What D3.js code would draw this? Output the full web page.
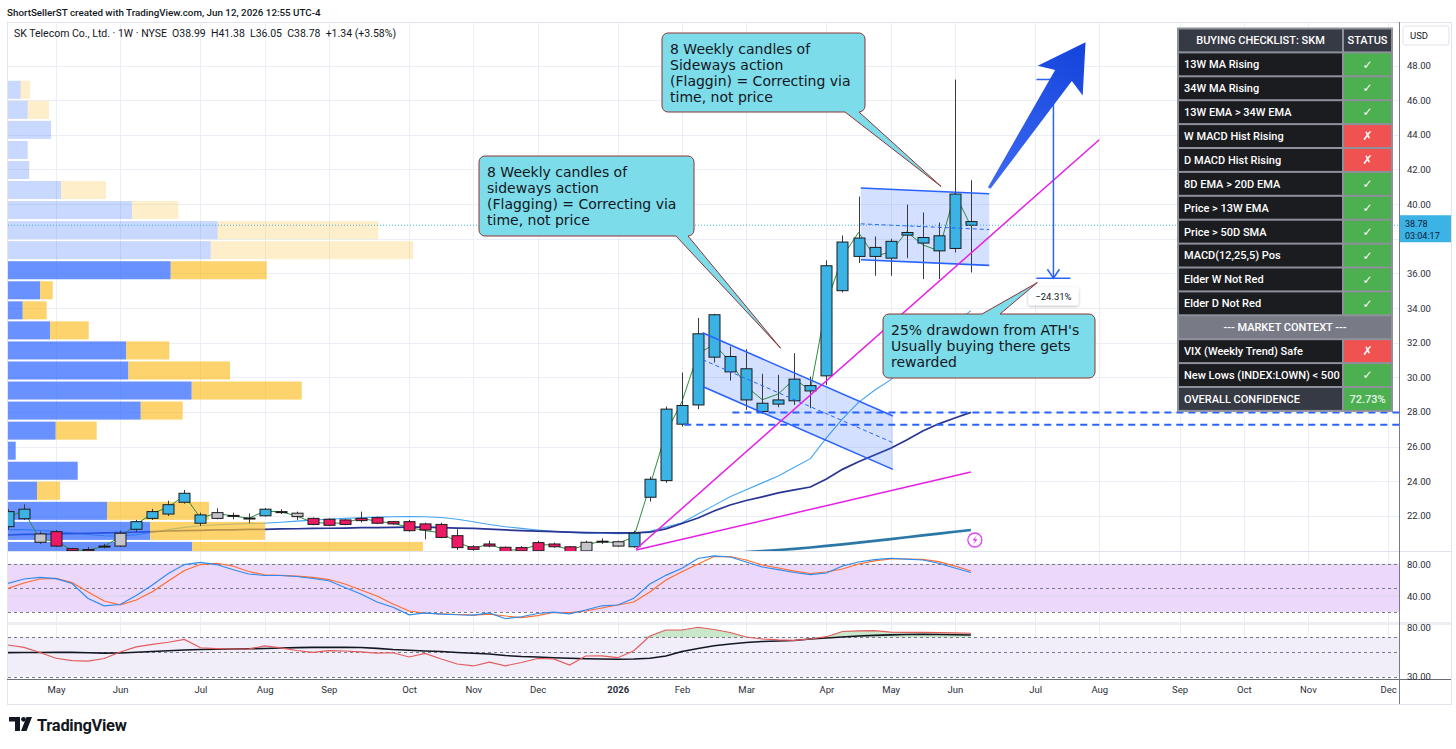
<!DOCTYPE html>
<html>
<head>
<meta charset="utf-8">
<title>SK Telecom 1W</title>
<script src="https://cdn.jsdelivr.net/npm/d3@7"></script>
<style>
  body { margin: 0; background: #fff; }
  svg { display: block; }
</style>
</head>
<body>
<script>
// ---------- data ----------
var firstBar = "2025-04-14", lastBar = "2026-06-08";

var opens  = [21.37,21.83,20.95,21.08,20.10,20.05,20.20,20.25,21.22,21.85,22.10,22.78,21.57,21.85,22.02,21.87,22.00,22.22,22.15,21.85,
              21.80,21.76,21.85,21.89,21.66,21.66,21.53,21.50,20.85,20.21,20.25,20.18,20.16,19.98,20.21,20.21,19.97,20.50,20.25,20.21,
              23.07,24.03,27.29,28.40,33.61,30.31,30.49,28.50,28.45,28.64,29.21,30.08,35.00,36.98,37.50,36.88,38.21,38.07,38.17,40.58,38.99];
var highs  = [22.40,22.66,21.08,21.18,20.15,20.20,20.37,21.14,21.76,22.40,22.87,23.49,22.18,22.43,22.18,22.14,22.45,22.38,22.24,21.90,
              21.85,21.80,22.24,21.95,21.70,21.76,21.60,21.60,21.22,20.30,20.56,20.22,20.25,20.56,20.45,20.25,20.56,20.70,20.56,21.14,
              24.26,28.31,30.27,33.42,33.66,31.78,31.62,30.20,30.14,31.39,30.04,36.75,38.19,40.44,38.13,38.00,39.97,39.52,38.94,47.19,41.38];
var lows   = [21.20,21.76,20.37,20.20,19.90,19.85,20.12,20.20,21.08,21.76,21.99,22.70,21.41,21.80,21.80,21.57,21.95,22.10,21.76,21.45,
              21.40,21.45,21.62,21.52,21.48,21.08,20.64,20.70,20.02,19.98,20.18,19.88,19.90,19.95,20.15,19.88,19.92,20.37,20.20,20.15,
              22.82,23.90,27.15,28.16,30.85,29.81,28.12,27.88,28.27,28.40,28.21,29.56,34.90,36.60,35.86,35.86,36.88,35.67,35.67,37.21,36.05];
var closes = [22.24,22.38,20.47,20.25,19.98,19.98,20.25,20.99,21.66,22.24,22.64,23.30,22.05,22.18,22.00,21.85,22.38,22.24,21.95,21.50,
              21.45,21.50,21.72,21.57,21.53,21.14,21.18,20.75,20.16,20.06,20.37,19.93,19.97,20.45,20.37,19.93,20.47,20.53,20.50,20.99,
              24.11,28.16,28.37,32.51,31.16,31.20,28.69,28.02,28.69,29.89,29.52,36.44,37.81,38.04,36.98,37.85,38.36,37.75,37.30,37.44,38.78];
// impulse state per bar: b = bullish/blue, p = bearish/pink, g = neutral/grey
var impulse = ("bbgppppg" + "bbbbb" + "ggg" + "b" + "gg" + "ppppppppppppppppp" + "ggg" + "bbbbbbbbbbbbbbbbbbbbbb").split("");

var ema13 = [21.20,21.20,21.15,21.10,21.00,20.92,20.85,20.83,20.90,21.05,21.20,21.33,21.42,21.48,21.52,21.55,21.57,21.63,21.69,21.75,
             21.80,21.85,21.89,21.92,21.94,21.95,21.94,21.90,21.80,21.65,21.50,21.37,21.27,21.18,21.10,21.04,21.00,20.99,20.97,20.98,
             21.10,21.35,21.60,22.10,22.60,23.10,23.50,23.90,24.30,24.80,25.30,26.50,27.60,28.55,29.25,29.85,30.70,31.50,32.30,33.10,33.85];
var sma34 = [20.89,20.92,20.93,20.95,20.97,20.99,21.01,21.03,21.06,21.09,21.12,21.14,21.16,21.18,21.19,21.21,21.22,21.24,21.25,21.27,
             21.28,21.29,21.31,21.32,21.33,21.34,21.34,21.32,21.29,21.27,21.23,21.18,21.14,21.11,21.08,21.05,21.03,21.02,21.01,21.01,
             21.05,21.24,21.55,21.87,22.28,22.62,22.88,23.09,23.32,23.50,23.66,24.13,24.68,25.12,25.51,25.90,26.38,26.90,27.31,27.65,27.97];
// long average only shows from Jan 2026 onward
var ma40 = [null,null,null,null,null,null,null,null,null,null,null,null,null,null,null,null,null,null,null,null,
            null,null,null,null,null,null,null,null,null,null,null,null,null,null,null,null,null,null,19.45,19.50,
            19.55,19.60,19.66,19.72,19.78,19.84,19.90,19.96,20.02,20.09,20.17,20.26,20.35,20.45,20.55,20.65,20.76,20.87,20.97,21.08,21.18];

var stochK = [56,61.5,63.6,62,55.8,36.9,27.7,29.3,40.7,53.9,68.4,79.7,82.5,79.7,73.4,67.8,65.9,65.9,64.6,62.1,
              59.3,50.7,42.5,32.5,25.8,16.3,18.8,17.3,16.4,16,18.8,11.4,13.9,18,19.6,17.6,22.4,27.7,28.7,37.1,
              55.2,66.1,75,87.3,90.7,89.2,82.9,76.6,73.4,69.7,67.1,69,77.9,82.9,85.8,87.6,86.4,85.4,81.3,75.3,69.7];
var stochD = [49.7,56.4,61.5,62.3,57,45,33.7,29,35,45.4,58.9,72.2,79.7,81.3,77.9,70.9,66.8,66.1,65.2,63.4,
              60.8,55.2,47.6,40,30,21.1,18.3,17.6,16.7,16,17.1,14.8,12.7,15.4,19.2,19,21.1,24.9,28.7,32.5,
              45,60.2,70.7,80.4,89.8,89.8,85.4,79.1,75.3,71.5,68.4,70.3,74.1,80.4,84.2,86.7,86.7,86.3,83.3,77.9,71.5];
var rsi    = [62.2,59.8,54.6,48.7,46.4,45.9,48.5,55.1,60.2,62.9,65,67.8,59.4,58.6,58.1,58.1,61.2,59.3,56.6,54.8,
              56.4,56.1,55.3,53.9,54.3,50,53.6,48,42.9,40.9,44.7,41.1,44.4,48.5,48,41.9,51,51.2,49.3,56.4,
              71.3,77.4,77.4,80.2,77.9,74.9,70.3,68.3,67.3,66.8,68.3,70.6,75.9,76.6,76.7,75.2,75.1,75.1,74.8,74.4,74.1];
var rsiMa  = [54.4,54.5,54.6,54.7,54.7,54.3,53.9,54.1,54.8,55.6,56.4,57.1,57.6,57.9,58.1,58.4,58.7,59.1,59.5,59.8,
              59.8,59.8,59.6,58.8,57.6,56.8,56.1,55.6,54.6,53.8,53,51.5,50.5,50,49.3,48.7,48.3,47.9,47.7,48,
              48.7,51,55.6,58.6,61.4,63.2,64.7,65.7,66.2,66.8,68.3,69.3,70.3,71.3,72,72.5,72.8,73,72.9,72.6,72.3];

// visible range volume profile, rows from the bottom up
var vpLow = 19.39, vpRowSize = 1.158, vpValueAreaHigh = 36.76;
var vpUp   = [184,142,99,29,69.7,7.7,47.7,132.7,183.7,120.3,118,42,14.7,32,162.7,202.7,209.7,124,53,21,19.7,43,19.7,12.7];
var vpDown = [231,115,102,23,0,0,41,42,110,101.7,43.3,38.7,24,12.7,96,202.6,160.6,46.3,45,0.5,0,0,21.3,9.3];

var monthTicks  = ["2025-05-05","2025-06-02","2025-07-07","2025-08-04","2025-09-01","2025-10-06","2025-11-03","2025-12-01",
                   "2026-01-05","2026-02-02","2026-03-02","2026-04-06","2026-05-04","2026-06-01","2026-07-06","2026-08-03",
                   "2026-09-07","2026-10-05","2026-11-02","2026-12-07"];
var monthLabels = ["May","Jun","Jul","Aug","Sep","Oct","Nov","Dec","2026","Feb","Mar","Apr","May","Jun","Jul","Aug","Sep","Oct","Nov","Dec"];
var priceTicks = [22,24,26,28,30,32,34,36,38,40,42,44,46,48];
var stochTicks = [80,40], stochLevels = [80,50,20];
var rsiTicks = [80,30], rsiLevels = [70,55,30];

// drawings
var trendLines = [
  {from: ["2026-01-13", 20.08], to: ["2026-08-03", 43.72]},
  {from: ["2026-01-13", 20.02], to: ["2026-06-08", 24.53]}
];
var channels = [
  {from: "2026-02-11", to: "2026-05-05", upper: [32.57, 27.76], lower: [29.46, 24.68]},
  {from: "2026-04-21", to: "2026-06-16", upper: [40.93, 40.60], lower: [36.79, 36.46]}
];
var hLines = [{from: "2026-02-24", price: 27.96}, {from: "2026-02-03", price: 27.25}];
var measure = {date: "2026-07-14", from: 47.19, to: 35.72};
var bigArrow = {tail: ["2026-06-16", 40.93], tip: ["2026-07-28", 49.35]};
var callouts = [
  {tip: ["2026-03-17", 31.68], lines: ["8 Weekly candles of", "sideways action", "(Flagging) = Correcting via", "time, not price"]},
  {tip: ["2026-05-26", 41.02], lines: ["8 Weekly candles of", "Sideways action", "(Flaggin) = Correcting via", "time, not price"]},
  {tip: ["2026-07-07", 35.47], lines: ["25% drawdown from ATH's", "Usually buying there gets", "rewarded"]}
];

var checkLabels = ["13W MA Rising","34W MA Rising","13W EMA > 34W EMA","W MACD Hist Rising","D MACD Hist Rising",
                   "8D EMA > 20D EMA","Price > 13W EMA","Price > 50D SMA","MACD(12,25,5) Pos","Elder W Not Red","Elder D Not Red"];
var checkPass = [true,true,true,false,false,true,true,true,true,true,true];
var contextLabels = ["VIX (Weekly Trend) Safe","New Lows (INDEX:LOWN) < 500"];
var contextPass = [false,true];
var confidence = "72.73%";
var countdown = "03:04:17";

// ---------- layout ----------
var W = 1456, H = 749;
var L = 8, R = 1399;
var mainTop = 22, mainBot = 551, p1Top = 552, p1Bot = 622, p2Top = 625, p2Bot = 679, axisBot = 704;
var FONT = "Roboto, 'Open Sans', sans-serif";

var day = d3.utcParse("%Y-%m-%d");
var bars = d3.utcMonday.range(day(firstBar), d3.utcDay.offset(day(lastBar), 1));
var data = bars.map(function(d, i) {
  return {date: d, o: opens[i], h: highs[i], l: lows[i], c: closes[i], imp: impulse[i]};
});

var x = d3.scaleUtc().domain([day("2025-05-05"), day("2026-12-07")]).range([56, 1388.2]);
var y = d3.scaleLinear().domain([20, 48]).range([550.4, 65.6]);
var yS = d3.scaleLinear().domain([20, 80]).range([611.9, 564.3]);
var yR = d3.scaleLinear().domain([30, 70]).range([676.7, 637.3]);
var vpX = d3.scaleLinear().domain([0, 400]).range([L, L + 400]);
var px = function(p) { return [x(day(p[0])), y(p[1])]; };

var impColor = {b: "#3bb3e4", p: "#ec1a64", g: "#c4c4ca"};

var svg = d3.select("body").append("svg")
    .attr("width", W).attr("height", H)
    .style("font-family", FONT);

var defs = svg.append("defs");
function clip(id, y0, y1) {
  defs.append("clipPath").attr("id", id).append("rect")
      .attr("x", L).attr("y", y0).attr("width", R - L).attr("height", y1 - y0);
}
clip("cMain", mainTop, mainBot);
clip("cP1", p1Top, p1Bot);
clip("cP2", p2Top, p2Bot);
var shadow = defs.append("filter").attr("id", "shadow").attr("x", "-30%").attr("y", "-40%").attr("width", "160%").attr("height", "180%");
shadow.append("feDropShadow").attr("dx", 0).attr("dy", 1).attr("stdDeviation", 1.5).attr("flood-opacity", 0.3);

// header text
svg.append("text").attr("x", 7).attr("y", 15.5)
    .attr("font-size", 9.8).attr("font-weight", 500).attr("fill", "#131722")
    .text("ShortSellerST created with TradingView.com, Jun 12, 2026 12:55 UTC-4");

// frame
svg.append("rect").attr("x", 7.5).attr("y", mainTop + 0.5).attr("width", 1444).attr("height", axisBot - mainTop)
    .attr("fill", "none").attr("stroke", "#e0e3eb");

// ---------- grid & pane backgrounds ----------
var grid = svg.append("g").attr("stroke", "#ebeff5").attr("stroke-width", 1);
grid.selectAll("line.v").data(monthTicks).join("line")
    .attr("x1", function(d) { return Math.round(x(day(d))) + 0.5; })
    .attr("x2", function(d) { return Math.round(x(day(d))) + 0.5; })
    .attr("y1", mainTop).attr("y2", p2Bot);
grid.selectAll("line.h").data(priceTicks).join("line")
    .attr("x1", L).attr("x2", R)
    .attr("y1", function(d) { return Math.round(y(d)) + 0.5; })
    .attr("y2", function(d) { return Math.round(y(d)) + 0.5; });

svg.append("rect").attr("x", L).attr("width", R - L)
    .attr("y", yS(80)).attr("height", yS(20) - yS(80)).attr("fill", "#ebd8fb");
svg.append("rect").attr("x", L).attr("width", R - L)
    .attr("y", yR(70)).attr("height", yR(30) - yR(70)).attr("fill", "#f2eef9");

svg.append("g").attr("stroke", "#d9d3e6").selectAll("line").data(stochTicks).join("line")
    .attr("x1", L).attr("x2", R).attr("y1", function(d) { return yS(d); }).attr("y2", function(d) { return yS(d); });

function levels(scale, vals) {
  svg.append("g").attr("stroke", "#787b86").attr("stroke-dasharray", "3,3").attr("stroke-width", 1)
    .selectAll("line").data(vals).join("line")
    .attr("x1", L).attr("x2", R)
    .attr("y1", function(d) { return Math.round(scale(d)) + 0.5; })
    .attr("y2", function(d) { return Math.round(scale(d)) + 0.5; });
}
levels(yS, stochLevels);
levels(yR, rsiLevels);

// ---------- main pane ----------
var main = svg.append("g").attr("clip-path", "url(#cMain)");

function series(vals, scale) {
  return d3.line().defined(function(d) { return d != null; })
      .x(function(d, i) { return x(bars[i]); })
      .y(function(d) { return scale(d); })(vals);
}
main.append("path").attr("d", series(ema13, y)).attr("fill", "none").attr("stroke", "#42a5f5").attr("stroke-width", 1.1);
main.append("path").attr("d", series(sma34, y)).attr("fill", "none").attr("stroke", "#283593").attr("stroke-width", 1.7);
main.append("path").attr("d", series(ma40, y)).attr("fill", "none").attr("stroke", "#2b78a6").attr("stroke-width", 2.6);

// volume profile
var vpRows = vpUp.map(function(u, i) {
  return {lo: vpLow + i * vpRowSize, hi: vpLow + (i + 1) * vpRowSize, up: u, down: vpDown[i]};
});
var vp = main.append("g");
vp.selectAll("rect.up").data(vpRows).join("rect")
    .attr("x", vpX(0)).attr("width", function(d) { return vpX(d.up) - vpX(0); })
    .attr("y", function(d) { return y(d.hi) + 1; })
    .attr("height", function(d) { return y(d.lo) - y(d.hi) - 2; })
    .attr("fill", function(d) { return d.lo < vpValueAreaHigh ? "rgba(41,98,255,0.7)" : "rgba(41,98,255,0.25)"; });
vp.selectAll("rect.dn").data(vpRows).join("rect")
    .attr("x", function(d) { return vpX(d.up); }).attr("width", function(d) { return vpX(d.down) - vpX(0); })
    .attr("y", function(d) { return y(d.hi) + 1; })
    .attr("height", function(d) { return y(d.lo) - y(d.hi) - 2; })
    .attr("fill", function(d) { return d.lo < vpValueAreaHigh ? "rgba(251,192,45,0.7)" : "rgba(251,192,45,0.25)"; });

// channel fills
function chanPts(c) {
  var a = x(day(c.from)), b = x(day(c.to));
  return {a: a, b: b, u0: y(c.upper[0]), u1: y(c.upper[1]), l0: y(c.lower[0]), l1: y(c.lower[1])};
}
channels.forEach(function(c) {
  var p = chanPts(c);
  main.append("polygon")
      .attr("points", [[p.a, p.u0], [p.b, p.u1], [p.b, p.l1], [p.a, p.l0]].join(" "))
      .attr("fill", "rgba(41,98,255,0.2)");
});

// typical price line + candles
main.append("path")
    .attr("d", d3.line().x(function(d) { return x(d.date); }).y(function(d) { return y((d.h + d.l + d.c) / 3); })(data))
    .attr("fill", "none").attr("stroke", "#2e8b3e").attr("stroke-width", 1);

var candles = main.append("g").selectAll("g").data(data).join("g");
candles.append("line")
    .attr("x1", function(d) { return Math.round(x(d.date)) + 0.5; })
    .attr("x2", function(d) { return Math.round(x(d.date)) + 0.5; })
    .attr("y1", function(d) { return y(d.h); }).attr("y2", function(d) { return y(d.l); })
    .attr("stroke", "#3a3a3a").attr("stroke-width", 1);
candles.append("rect")
    .attr("x", function(d) { return Math.round(x(d.date)) - 5; })
    .attr("width", 11)
    .attr("y", function(d) { return y(Math.max(d.o, d.c)); })
    .attr("height", function(d) { return Math.max(1, Math.abs(y(d.o) - y(d.c))); })
    .attr("fill", function(d) { return impColor[d.imp]; })
    .attr("stroke", "#1b1b1b").attr("stroke-width", 1);

// channel borders and midlines
channels.forEach(function(c) {
  var p = chanPts(c);
  main.append("line").attr("x1", p.a).attr("y1", p.u0).attr("x2", p.b).attr("y2", p.u1)
      .attr("stroke", "#2962ff").attr("stroke-width", 1.6);
  main.append("line").attr("x1", p.a).attr("y1", p.l0).attr("x2", p.b).attr("y2", p.l1)
      .attr("stroke", "#2962ff").attr("stroke-width", 1.6);
  main.append("line").attr("x1", p.a).attr("y1", (p.u0 + p.l0) / 2).attr("x2", p.b).attr("y2", (p.u1 + p.l1) / 2)
      .attr("stroke", "#2962ff").attr("stroke-width", 1).attr("stroke-dasharray", "4,3");
});

// trend lines
trendLines.forEach(function(t) {
  var a = px(t.from), b = px(t.to);
  main.append("line").attr("x1", a[0]).attr("y1", a[1]).attr("x2", b[0]).attr("y2", b[1])
      .attr("stroke", "#e61ee6").attr("stroke-width", 1.5);
});

// horizontal levels
main.selectAll("line.hl").data(hLines).join("line")
    .attr("x1", function(d) { return x(day(d.from)); }).attr("x2", R)
    .attr("y1", function(d) { return y(d.price); }).attr("y2", function(d) { return y(d.price); })
    .attr("stroke", "#2962ff").attr("stroke-width", 2).attr("stroke-dasharray", "7,5");

// last price line
var last = data[data.length - 1], prev = data[data.length - 2];
main.append("line").attr("x1", L).attr("x2", R).attr("y1", y(last.c)).attr("y2", y(last.c))
    .attr("stroke", "#3bb3e4").attr("stroke-width", 1).attr("stroke-dasharray", "1,2");

// measure tool
(function() {
  var mx = x(day(measure.date)), y0 = y(measure.from), y1 = y(measure.to);
  var g = main.append("g").attr("stroke", "#2962ff").attr("stroke-width", 1.5).attr("fill", "none");
  g.append("line").attr("x1", mx).attr("x2", mx).attr("y1", y0).attr("y2", y1);
  g.append("line").attr("x1", mx - 17).attr("x2", mx + 17).attr("y1", y0).attr("y2", y0);
  g.append("line").attr("x1", mx - 17).attr("x2", mx + 17).attr("y1", y1).attr("y2", y1);
  g.append("path").attr("d", "M" + (mx - 6) + "," + (y1 - 9) + "L" + mx + "," + y1 + "L" + (mx + 6) + "," + (y1 - 9));
  var pct = (measure.to - measure.from) / measure.from * 100;
  main.append("rect").attr("x", mx - 25).attr("y", y1 + 9).attr("width", 50).attr("height", 18).attr("rx", 2)
      .attr("fill", "#fff").attr("filter", "url(#shadow)");
  main.append("text").attr("x", mx).attr("y", y1 + 18).attr("dy", "0.35em").attr("text-anchor", "middle")
      .attr("font-size", 9.5).attr("fill", "#131722").text(d3.format(".2f")(pct) + "%");
})();

// big arrow marker
(function() {
  var t = px(bigArrow.tail), h = px(bigArrow.tip);
  var dx = h[0] - t[0], dy = h[1] - t[1], len = Math.hypot(dx, dy);
  var ux = dx / len, uy = dy / len, nx = -uy, ny = ux;
  var shape = [[len, 0], [len - 46, 27], [len - 40, 10], [0, 1.5], [0, -1.5], [len - 40, -10], [len - 46, -27]];
  var pts = shape.map(function(s) { return [t[0] + s[0] * ux + s[1] * nx, t[1] + s[0] * uy + s[1] * ny]; });
  var grad = defs.append("linearGradient").attr("id", "arrowGrad").attr("gradientUnits", "userSpaceOnUse")
      .attr("x1", t[0]).attr("y1", t[1]).attr("x2", h[0]).attr("y2", h[1]);
  grad.append("stop").attr("offset", 0).attr("stop-color", "#3d6af2");
  grad.append("stop").attr("offset", 1).attr("stop-color", "#1443dc");
  main.append("polygon").attr("points", pts.join(" ")).attr("fill", "url(#arrowGrad)");
})();

// event icon under last bar
(function() {
  var cx = x(last.date) + 4, cy = mainBot - 11;
  var g = main.append("g").attr("transform", "translate(" + cx + "," + cy + ")");
  g.append("circle").attr("r", 7).attr("fill", "#fff").attr("stroke", "#e040fb").attr("stroke-width", 1.3);
  g.append("path").attr("d", "M1.8,-4.8L-2.4,0.6L0.2,0.6L-1.6,4.8L2.6,-0.9L0,-0.9Z").attr("fill", "#e040fb");
})();

// callouts
var calloutBoxes = [
  {x0: 479, y0: 156, x1: 694, y1: 236, side: "bottom", b0: 676, b1: 688},
  {x0: 662, y0: 33, x1: 865, y1: 112, side: "bottom", b0: 845, b1: 859},
  {x0: 883, y0: 314, x1: 1095, y1: 378, side: "top", b0: 982, b1: 1000}
];
function calloutPath(b, tip) {
  var r = 6, p = d3.path();
  p.moveTo(b.x0 + r, b.y0);
  if (b.side === "top") { p.lineTo(b.b0, b.y0); p.lineTo(tip[0], tip[1]); p.lineTo(b.b1, b.y0); }
  p.lineTo(b.x1 - r, b.y0); p.arcTo(b.x1, b.y0, b.x1, b.y0 + r, r);
  p.lineTo(b.x1, b.y1 - r); p.arcTo(b.x1, b.y1, b.x1 - r, b.y1, r);
  if (b.side === "bottom") { p.lineTo(b.b1, b.y1); p.lineTo(tip[0], tip[1]); p.lineTo(b.b0, b.y1); }
  p.lineTo(b.x0 + r, b.y1); p.arcTo(b.x0, b.y1, b.x0, b.y1 - r, r);
  p.lineTo(b.x0, b.y0 + r); p.arcTo(b.x0, b.y0, b.x0 + r, b.y0, r);
  p.closePath();
  return p.toString();
}
callouts.forEach(function(c, i) {
  var b = calloutBoxes[i], tip = px(c.tip);
  svg.append("path").attr("d", calloutPath(b, tip))
      .attr("fill", "#7ddcea").attr("stroke", "#8e3434").attr("stroke-width", 1);
  var lh = 16, top = (b.y0 + b.y1) / 2 - (c.lines.length * lh) / 2;
  // one text block per note, one tspan per line
  svg.append("text")
      .attr("font-family", "'DejaVu Sans', sans-serif")
      .attr("font-size", 14).attr("fill", "#131722")
    .selectAll("tspan").data(c.lines).join("tspan")
      .attr("x", b.x0 + 8).attr("y", function(d, k) { return top + k * lh + lh / 2 + 5; })
      .text(function(d) { return d; });
});

// symbol line
svg.append("text").attr("x", 14).attr("y", 36.5).attr("font-size", 10.5).attr("fill", "#131722")
    .style("white-space", "pre")
    .text("SK Telecom Co., Ltd. \u00b7 1W \u00b7 NYSE  O" + last.o.toFixed(2) + "  H" + last.h.toFixed(2) +
          "  L" + last.l.toFixed(2) + "  C" + last.c.toFixed(2) + "  +" + (last.c - prev.c).toFixed(2) +
          " (+" + ((last.c - prev.c) / prev.c * 100).toFixed(2) + "%)");

// ---------- oscillator panes ----------
var p1 = svg.append("g").attr("clip-path", "url(#cP1)");
p1.append("path").attr("d", series(stochD, yS)).attr("fill", "none").attr("stroke", "#ff6d2e").attr("stroke-width", 1.2);
p1.append("path").attr("d", series(stochK, yS)).attr("fill", "none").attr("stroke", "#2d8cf0").attr("stroke-width", 1.2);

var p2 = svg.append("g").attr("clip-path", "url(#cP2)");
p2.append("path")
    .attr("d", d3.area().x(function(d, i) { return x(bars[i]); })
      .y0(yR(70)).y1(function(d) { return yR(Math.max(d, 70)); })(rsi))
    .attr("fill", "rgba(76,175,80,0.3)");
p2.append("path").attr("d", series(rsiMa, yR)).attr("fill", "none").attr("stroke", "#131722").attr("stroke-width", 1.6);
p2.append("path").attr("d", series(rsi, yR)).attr("fill", "none").attr("stroke", "#e35b5b").attr("stroke-width", 1.2);

// pane separators
svg.append("line").attr("x1", L).attr("x2", 1451).attr("y1", mainBot + 0.5).attr("y2", mainBot + 0.5).attr("stroke", "#e0e3eb");
svg.append("rect").attr("x", L).attr("width", 1443).attr("y", p1Bot).attr("height", p2Top - p1Bot).attr("fill", "#eceef2");
svg.append("line").attr("x1", 7).attr("x2", 1451).attr("y1", p2Bot + 0.5).attr("y2", p2Bot + 0.5).attr("stroke", "#6a6d78");
svg.append("line").attr("x1", R + 0.5).attr("x2", R + 0.5).attr("y1", mainTop).attr("y2", axisBot).attr("stroke", "#787b86");

// ---------- checklist table ----------
var tb = {x0: 1178, x1: 1392, split: 1343, y0: 28.5, rh: 23.9};
var rows = [{kind: "head"}]
  .concat(checkLabels.map(function(l, i) { return {kind: "item", label: l, pass: checkPass[i]}; }))
  .concat([{kind: "ctx"}])
  .concat(contextLabels.map(function(l, i) { return {kind: "item", label: l, pass: contextPass[i]}; }))
  .concat([{kind: "total"}]);
var table = svg.append("g").attr("font-size", 11).attr("font-weight", 500);
table.append("rect").attr("x", tb.x0 - 1).attr("y", tb.y0 - 1)
    .attr("width", tb.x1 - tb.x0 + 2).attr("height", rows.length * tb.rh + 2).attr("fill", "#8e919b");
rows.forEach(function(r, i) {
  var ry = tb.y0 + i * tb.rh, cy = ry + tb.rh / 2;
  if (r.kind === "ctx") {
    table.append("rect").attr("x", tb.x0 + 1).attr("y", ry + 1).attr("width", tb.x1 - tb.x0 - 2).attr("height", tb.rh - 2).attr("fill", "#787b86");
    table.append("text").attr("x", (tb.x0 + tb.x1) / 2).attr("y", cy).attr("dy", "0.35em").attr("text-anchor", "middle")
        .attr("fill", "#fff").text("--- MARKET CONTEXT ---");
    return;
  }
  var leftFill = r.kind === "item" ? "#1b1c20" : "#363a45";
  var rightFill = r.kind === "head" ? "#363a45" : (r.kind === "total" || r.pass ? "#4caf50" : "#f05252");
  table.append("rect").attr("x", tb.x0 + 1).attr("y", ry + 1).attr("width", tb.split - tb.x0 - 2).attr("height", tb.rh - 2).attr("fill", leftFill);
  table.append("rect").attr("x", tb.split + 1).attr("y", ry + 1).attr("width", tb.x1 - tb.split - 2).attr("height", tb.rh - 2).attr("fill", rightFill);
  var leftText = r.kind === "head" ? "BUYING CHECKLIST: SKM" : (r.kind === "total" ? "OVERALL CONFIDENCE" : r.label);
  table.append("text").attr("x", r.kind === "head" ? (tb.x0 + tb.split) / 2 : tb.x0 + 6).attr("y", cy).attr("dy", "0.35em")
      .attr("text-anchor", r.kind === "head" ? "middle" : "start").attr("fill", "#fff").text(leftText);
  var rt = table.append("text").attr("x", (tb.split + tb.x1) / 2).attr("y", cy).attr("dy", "0.35em")
      .attr("text-anchor", "middle").attr("fill", "#fff");
  if (r.kind === "head") rt.text("STATUS");
  else if (r.kind === "total") rt.attr("fill", "#e8f5e9").text(confidence);
  else rt.attr("font-family", "'DejaVu Sans', sans-serif").attr("font-size", 12).attr("font-weight", "bold")
         .text(r.pass ? "\u2713" : "\u2717");
});

// ---------- axes ----------
function styleAxis(g) {
  g.attr("font-family", null).attr("font-size", null);
  g.select(".domain").remove();
  g.selectAll("text").attr("font-family", FONT).attr("font-size", 9.5).attr("fill", "#2a2e39");
}
var yLast = y(last.c);
svg.append("g").attr("transform", "translate(" + R + ",0)")
    .call(d3.axisRight(y).tickValues(priceTicks.filter(function(t) { return Math.abs(y(t) - yLast) > 15; }))
      .tickFormat(d3.format(".2f")).tickSize(0).tickPadding(8))
    .call(styleAxis);
svg.append("g").attr("transform", "translate(" + R + ",0)")
    .call(d3.axisRight(yS).tickValues(stochTicks).tickFormat(d3.format(".2f")).tickSize(0).tickPadding(8))
    .call(styleAxis);
svg.append("g").attr("transform", "translate(" + R + ",0)")
    .call(d3.axisRight(yR).tickValues(rsiTicks).tickFormat(d3.format(".2f")).tickSize(0).tickPadding(8))
    .call(styleAxis);

var xa = svg.append("g").attr("transform", "translate(0," + p2Bot + ")")
    .call(d3.axisBottom(x).tickValues(monthTicks.map(day))
      .tickFormat(function(d, i) { return monthLabels[i]; }).tickSize(0).tickPadding(7))
    .call(styleAxis);
xa.selectAll("text").filter(function(d, i) { return monthLabels[i] === "2026"; }).attr("font-weight", "bold");

// USD box and last price label
svg.append("rect").attr("x", 1403).attr("y", 26).attr("width", 46).attr("height", 19).attr("rx", 2)
    .attr("fill", "#fff").attr("stroke", "#e0e3eb");
svg.append("text").attr("x", 1410).attr("y", 35.5).attr("dy", "0.35em").attr("font-size", 9.5).attr("fill", "#131722").text("USD");
svg.append("rect").attr("x", R + 1).attr("y", yLast - 10).attr("width", 51).attr("height", 27).attr("fill", impColor[last.imp]);
svg.append("text").attr("x", 1405).attr("y", yLast - 1).attr("dy", "0.35em").attr("font-size", 9).attr("fill", "#0f1a3a").text(last.c.toFixed(2));
svg.append("text").attr("x", 1405).attr("y", yLast + 11).attr("dy", "0.35em").attr("font-size", 9).attr("fill", "#0f1a3a").text(countdown);

// ---------- watermark ----------
var logo = svg.append("g").attr("fill", "#131722");
logo.append("path").attr("d", "M9,717H20V731H15V721.5H9Z");
logo.append("circle").attr("cx", 23.5).attr("cy", 719.3).attr("r", 2.4);
logo.append("path").attr("d", "M26.5,717H32L26.5,731H21Z");
svg.append("text").attr("x", 37).attr("y", 731).attr("font-size", 16.5).attr("font-weight", "bold")
    .attr("letter-spacing", -0.3).attr("fill", "#131722").text("TradingView");
</script>
</body>
</html>
